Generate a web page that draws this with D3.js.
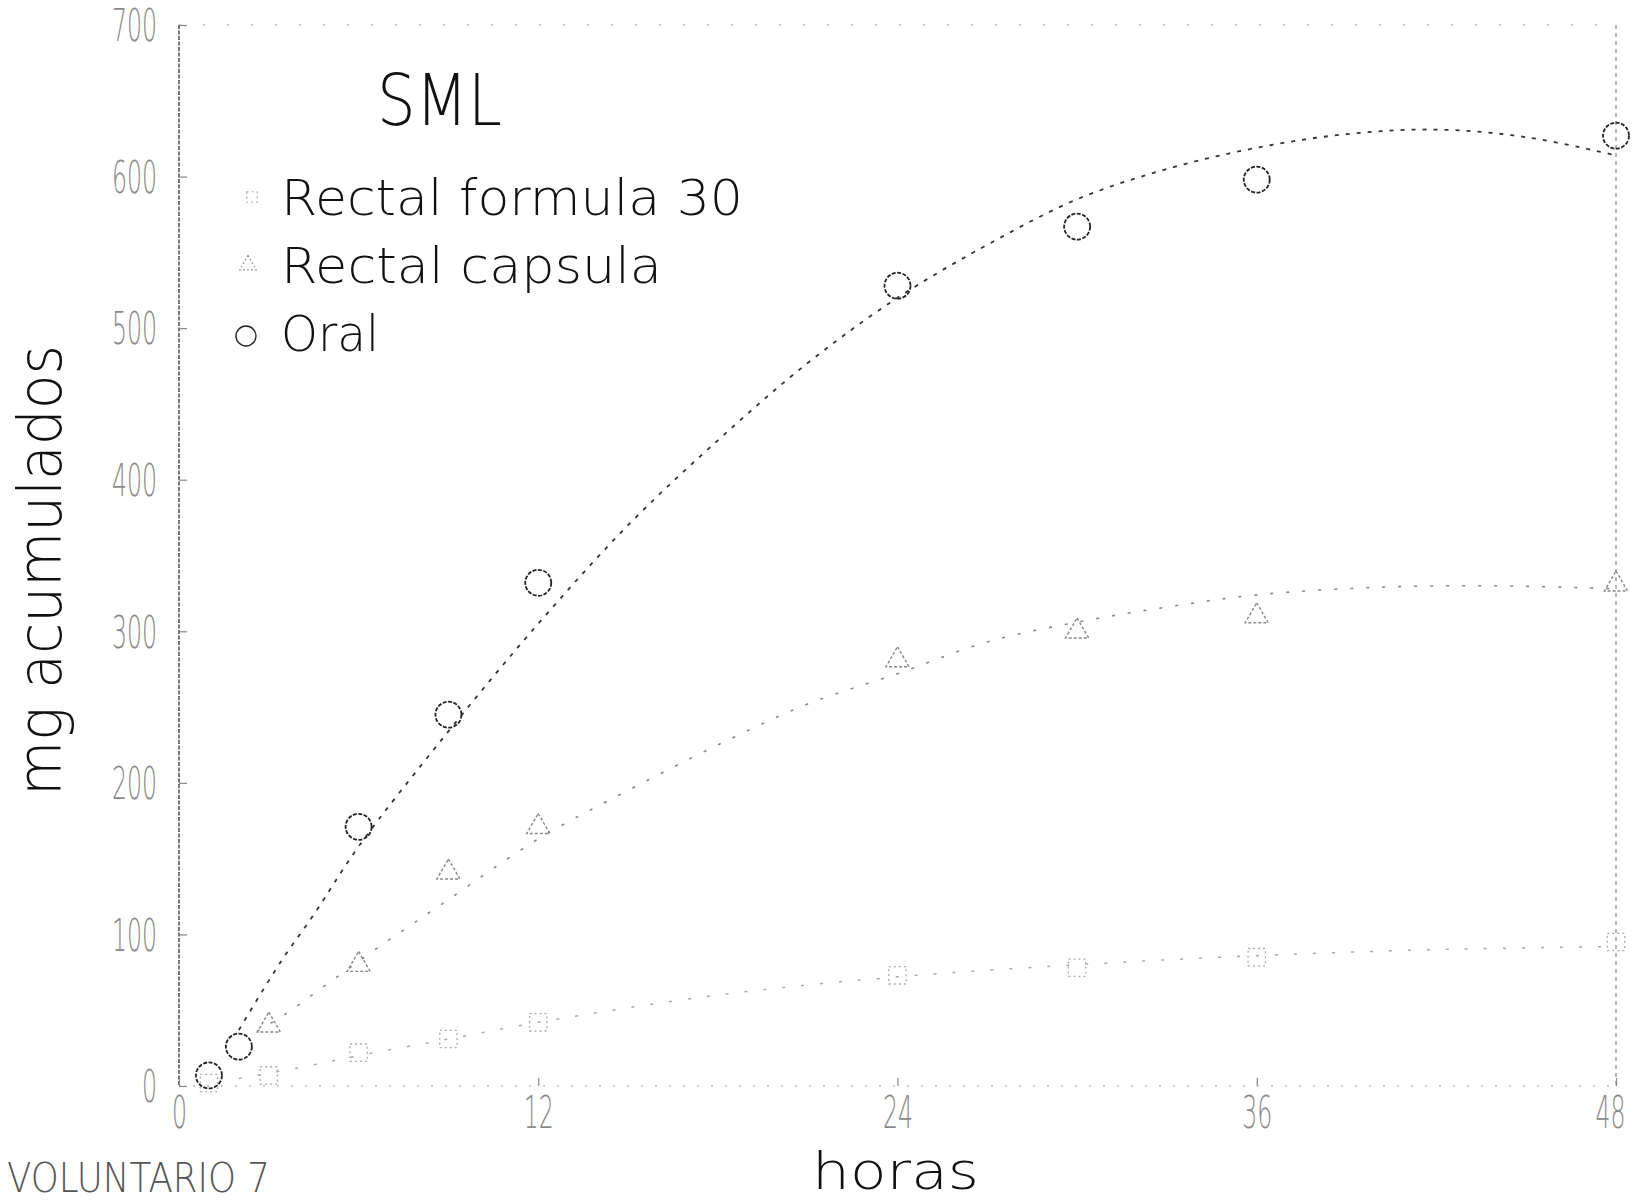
<!DOCTYPE html>
<html>
<head>
<meta charset="utf-8">
<script src="https://cdn.jsdelivr.net/npm/d3@7"></script>
<style>
  html, body { margin: 0; padding: 0; background: #fff; overflow: hidden; }
  svg { display: block; }
  text { font-family: "DejaVu Sans", sans-serif; }
</style>
</head>
<body>
<svg id="chart" width="1642" height="1200"></svg>
<script>
// ---------------- data ----------------
const xTicks = [0, 12, 24, 36, 48];
const yTicks = [0, 100, 200, 300, 400, 500, 600, 700];

// measured points
const oralHours = [1, 2, 6, 9, 12, 24, 30, 36, 48];
const oralValues = [7, 26, 171, 245, 332, 528, 567, 598, 627];

const capsulaHours = [3, 6, 9, 12, 24, 30, 36, 48];
const capsulaValues = [40, 80, 141, 171, 281, 300, 310, 331];

const formulaHours = [1, 3, 6, 9, 12, 24, 30, 36, 48];
const formulaValues = [2, 7, 22, 31, 42, 73, 78, 85, 95];

// fitted (dashed) curves
const oralFitHours = [2, 3.4, 4.5, 6, 9, 12, 15, 18, 21, 24, 27, 30, 33, 36, 39, 42, 45, 48];
const oralFitValues = [37, 82, 113, 158, 234, 305, 370, 426, 477, 520, 555, 585, 605, 619, 628, 631, 626, 614];

const capsulaFitHours = [2.6, 3.6, 5, 6.7, 9, 12, 15, 18, 21, 24, 27, 30, 33, 36, 40, 44, 48];
const capsulaFitValues = [36, 48, 68, 92, 123, 163, 195, 225, 252, 272, 293, 306, 316, 324, 329, 330, 328];

const formulaFitHours = [2, 4, 6, 9, 12, 18, 24, 30, 36, 42, 48];
const formulaFitValues = [5, 12, 20, 31, 42, 60, 72, 80, 86, 90, 92];

const legendLabels = ["Rectal formula 30", "Rectal capsula", "Oral"];
const titleText = "SML";
const xTitle = "horas";
const yTitle = "mg acumulados";
const footText = "VOLUNTARIO 7";

// ---------------- drawing ----------------
const svg = d3.select("#chart");
const x = d3.scaleLinear().domain([0, 48]).range([179, 1616]);
const y = d3.scaleLinear().domain([0, 700]).range([1086, 25]);

const zip = (a, b) => a.map((h, i) => [h, b[i]]);

// frame
const frame = svg.append("g");
frame.append("line").attr("x1", x(0)).attr("x2", x(0)).attr("y1", y(700)).attr("y2", y(0))
  .attr("stroke", "#555").attr("stroke-width", 1.6).attr("stroke-dasharray", "4,1.5");
frame.append("line").attr("x1", x(0)).attr("x2", x(48)).attr("y1", y(700)).attr("y2", y(700))
  .attr("stroke", "#999").attr("stroke-width", 1.2).attr("stroke-dasharray", "2,22");
frame.append("line").attr("x1", x(48)).attr("x2", x(48)).attr("y1", y(700)).attr("y2", y(0))
  .attr("stroke", "#888").attr("stroke-width", 1.2).attr("stroke-dasharray", "4,4");
frame.append("line").attr("x1", x(0)).attr("x2", x(48)).attr("y1", y(0)).attr("y2", y(0))
  .attr("stroke", "#999").attr("stroke-width", 1.2).attr("stroke-dasharray", "2,12");

// axes
const yAxis = svg.append("g").attr("transform", `translate(${x(0)},0)`)
  .call(d3.axisLeft(y).tickValues(yTicks).tickSizeInner(-8).tickSizeOuter(0).tickPadding(22));
const xAxis = svg.append("g").attr("transform", `translate(0,${y(0)})`)
  .call(d3.axisBottom(x).tickValues(xTicks).tickSizeInner(-8).tickSizeOuter(0).tickPadding(22));
[yAxis, xAxis].forEach(g => {
  g.select(".domain").remove();
  g.selectAll(".tick line").attr("stroke", "#888").attr("stroke-width", 1.2);
  g.selectAll(".tick text")
    .attr("fill", "#8a8a8a")
    .attr("font-size", 44)
    .attr("font-weight", 200)
    .attr("font-family", "DejaVu Sans, sans-serif")
    .attr("lengthAdjust", "spacingAndGlyphs")
    .attr("textLength", function () { return this.textContent.length * 15; });
});
yAxis.selectAll(".tick text").attr("dy", "0.36em");
xAxis.selectAll(".tick text").attr("y", 42).attr("dy", 0)
  .attr("x", d => d === 48 ? -6 : 0);

// fitted curves
const line = d3.line().x(d => x(d[0])).y(d => y(d[1])).curve(d3.curveCatmullRom.alpha(0.5));
svg.append("path").datum(zip(formulaFitHours, formulaFitValues)).attr("d", line)
  .attr("fill", "none").attr("stroke", "#aaa").attr("stroke-width", 1.5).attr("stroke-dasharray", "3,16");
svg.append("path").datum(zip(capsulaFitHours, capsulaFitValues)).attr("d", line)
  .attr("fill", "none").attr("stroke", "#888").attr("stroke-width", 1.6).attr("stroke-dasharray", "3,13");
svg.append("path").datum(zip(oralFitHours, oralFitValues)).attr("d", line)
  .attr("fill", "none").attr("stroke", "#333").attr("stroke-width", 1.8).attr("stroke-dasharray", "4,7");

// markers
const sqSym = d3.symbol().type(d3.symbolSquare).size(300);
const triSym = d3.symbol().type(d3.symbolTriangle).size(230);
svg.append("g").selectAll("path").data(zip(formulaHours, formulaValues)).join("path")
  .attr("d", sqSym).attr("transform", d => `translate(${x(d[0])},${y(d[1])})`)
  .attr("fill", "none").attr("stroke", "#aaa").attr("stroke-width", 1.3).attr("stroke-dasharray", "2,3");
svg.append("g").selectAll("path").data(zip(capsulaHours, capsulaValues)).join("path")
  .attr("d", triSym).attr("transform", d => `translate(${x(d[0])},${y(d[1])})`)
  .attr("fill", "none").attr("stroke", "#888").attr("stroke-width", 1.4).attr("stroke-dasharray", "3,2");
svg.append("g").selectAll("circle").data(zip(oralHours, oralValues)).join("circle")
  .attr("cx", d => x(d[0])).attr("cy", d => y(d[1])).attr("r", 13)
  .attr("fill", "none").attr("stroke", "#222").attr("stroke-width", 1.8).attr("stroke-dasharray", "4,1.5");

// title
svg.append("text").attr("x", 377).attr("y", 125).text(titleText)
  .attr("font-size", 72).attr("font-weight", 200).attr("fill", "#111")
  .attr("textLength", 125).attr("lengthAdjust", "spacingAndGlyphs");

// legend
const legY = [215, 283, 351];
const legLen = [462, 381, 98];
const leg = svg.append("g");
legendLabels.forEach((lab, i) => {
  leg.append("text").attr("x", 281).attr("y", legY[i]).text(lab)
    .attr("font-size", 50).attr("font-weight", 200).attr("fill", "#111")
    .attr("textLength", legLen[i]).attr("lengthAdjust", "spacingAndGlyphs");
});
leg.append("path").attr("d", d3.symbol().type(d3.symbolSquare).size(110))
  .attr("transform", `translate(252,${legY[0] - 18})`)
  .attr("fill", "none").attr("stroke", "#aaa").attr("stroke-width", 1.2).attr("stroke-dasharray", "2,3");
leg.append("path").attr("d", d3.symbol().type(d3.symbolTriangle).size(120))
  .attr("transform", `translate(248,${legY[1] - 18})`)
  .attr("fill", "none").attr("stroke", "#999").attr("stroke-width", 1.2).attr("stroke-dasharray", "2,2");
leg.append("circle").attr("cx", 246).attr("cy", legY[2] - 15).attr("r", 10)
  .attr("fill", "none").attr("stroke", "#222").attr("stroke-width", 1.4);

// axis titles
svg.append("text").attr("transform", "translate(61,796) rotate(-90)").text(yTitle)
  .attr("font-size", 60).attr("font-weight", 200).attr("fill", "#111")
  .attr("textLength", 451).attr("lengthAdjust", "spacingAndGlyphs");
svg.append("text").attr("x", 812).attr("y", 1189).text(xTitle)
  .attr("font-size", 52).attr("font-weight", 200).attr("fill", "#111")
  .attr("textLength", 167).attr("lengthAdjust", "spacingAndGlyphs");
svg.append("text").attr("x", 7).attr("y", 1192).text(footText)
  .attr("font-size", 40).attr("font-weight", 200).attr("fill", "#555")
  .attr("textLength", 263).attr("lengthAdjust", "spacingAndGlyphs");
</script>
</body>
</html>
